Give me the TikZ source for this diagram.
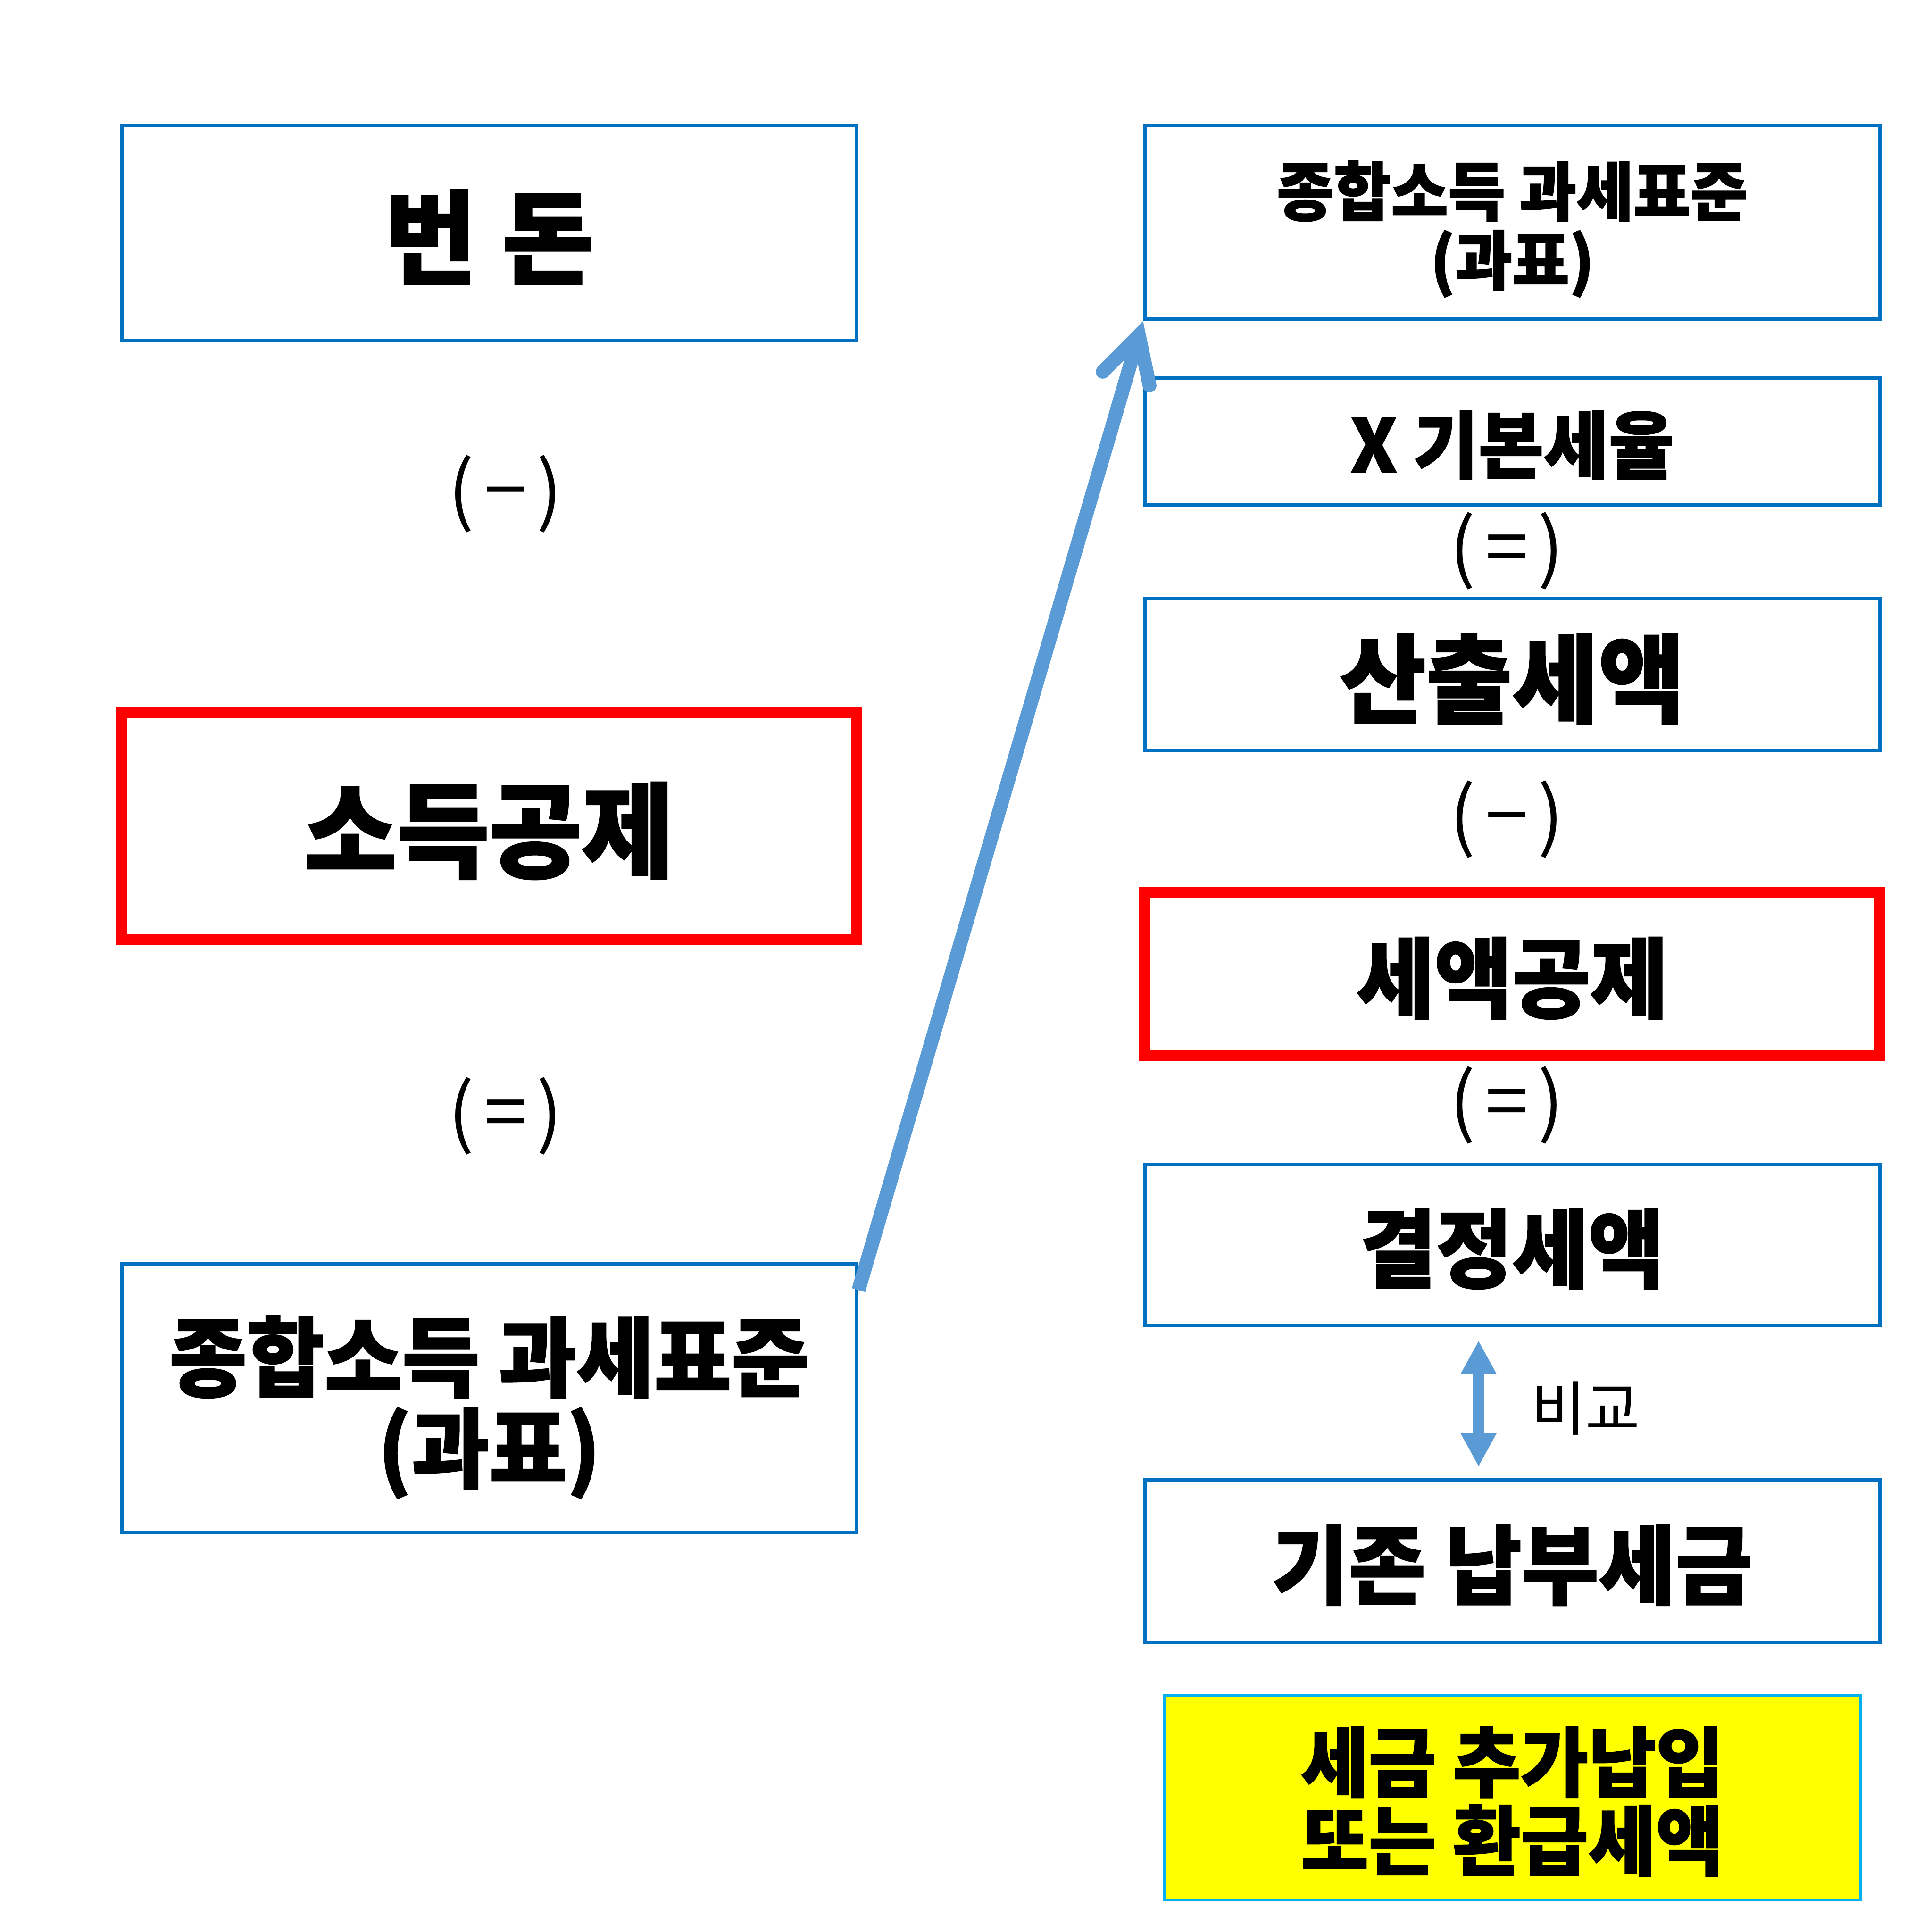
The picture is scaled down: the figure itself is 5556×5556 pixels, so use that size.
\documentclass[tikz,border=0pt]{standalone}
\usepackage{fontspec}
\usetikzlibrary{arrows.meta,calc}
\newcommand{\Px}{0.1pt}
\newfontfamily\krhead{Noto Sans CJK KR}[FakeStretch=0.97,BoldFeatures={FakeBold=1.5}]
\newfontfamily\krtext{Noto Sans CJK KR}
\definecolor{boxblue}{HTML}{0070C0}
\definecolor{alertred}{HTML}{FF0000}
\definecolor{arrowblue}{HTML}{5B9BD5}
\definecolor{noteyellow}{HTML}{FFFF00}
\definecolor{notecyan}{HTML}{00B0F0}

\begin{document}
\begin{tikzpicture}[x=\Px,y=-\Px,
  sheet/.style={draw=boxblue,line width=1pt,minimum width=211.4pt,
    inner sep=0pt,align=center,text depth=0pt},
  redsheet/.style={sheet,draw=alertred,line width=3.2pt},
  oper/.style={inner sep=0pt,font=\krtext\fontsize{22}{22}\selectfont}]

  \useasboundingbox (0,0) rectangle (5556,5556);

  % ---- left column --------------------------------------------------------
  \node[sheet,minimum height=61.7pt,font=\krhead\bfseries\fontsize{29.5}{30}\selectfont]
    (bd) at (1407,670) {번\hspace{.25em}돈};
  \node[oper] (m1) at (1453,1420) {(\hspace{.13em}−\hspace{.13em})};
  \node[redsheet,minimum height=65.4pt,font=\krhead\bfseries\fontsize{29.8}{30}\selectfont]
    (sg) at (1407,2375) {소득공제};
  \node[oper] (e1) at (1453,3210) {(\hspace{.13em}=\hspace{.13em})};
  \node[sheet,minimum height=77.2pt,font=\krhead\bfseries\fontsize{25}{26.2}\selectfont]
    (gl) at (1407,4021) {종합소득 과세표준\\(과표)};

  % ---- right column -------------------------------------------------------
  \node[sheet,minimum height=55.7pt,font=\krhead\bfseries\fontsize{18.4}{19.8}\selectfont]
    (gt) at (4349,640) {종합소득 과세표준\\(과표)};
  \node[sheet,minimum height=36.5pt,font=\krhead\bfseries\fontsize{21}{22}\selectfont]
    (gb) at (4349,1270) {X 기본세율};
  \node[oper] (e2) at (4333,1584) {(\hspace{.13em}=\hspace{.13em})};
  \node[sheet,minimum height=43.6pt,font=\krhead\bfseries\fontsize{27.8}{28}\selectfont]
    (sc) at (4349,1940) {산출세액};
  \node[oper] (m2) at (4333,2356) {(\hspace{.13em}−\hspace{.13em})};
  \node[redsheet,minimum height=46.8pt,font=\krhead\bfseries\fontsize{25.1}{26}\selectfont]
    (sk) at (4349,2801) {세액공제};
  \node[oper] (e3) at (4333,3178) {(\hspace{.13em}=\hspace{.13em})};
  \node[sheet,minimum height=46.4pt,font=\krhead\bfseries\fontsize{24.5}{25}\selectfont]
    (kj) at (4349,3580) {결정세액};
  \node[sheet,minimum height=46.8pt,font=\krhead\bfseries\fontsize{24.8}{26}\selectfont]
    (kn) at (4349,4489) {기존 납부세금};
  \node[sheet,draw=notecyan,fill=noteyellow,line width=0.7pt,minimum width=200.2pt,
    minimum height=58.8pt,font=\krhead\bfseries\fontsize{21.8}{22.6}\selectfont]
    (yl) at (4349,5170) {세금 추가납입\\또는 환급세액};

  % ---- arrows -------------------------------------------------------------
  \draw[arrowblue,line width=4pt,
    -{Straight Barb[length=13pt,width=14pt,line cap=round,line join=miter]}]
    ($(gl.north east)+(0,80)$) -- (gt.south west);
  \draw[arrowblue,line width=3.1pt,
    {Triangle[length=9.6pt,width=9.6pt]}-{Triangle[length=9.6pt,width=9.6pt]}]
    ($(kj.south)+(-97,38)$) -- ($(kn.north)+(-97,-32)$);
  \node[inner sep=0pt,font=\krtext\fontsize{17}{17}\selectfont] (cmp) at (4560,4050) {비교};

\end{tikzpicture}
\end{document}
